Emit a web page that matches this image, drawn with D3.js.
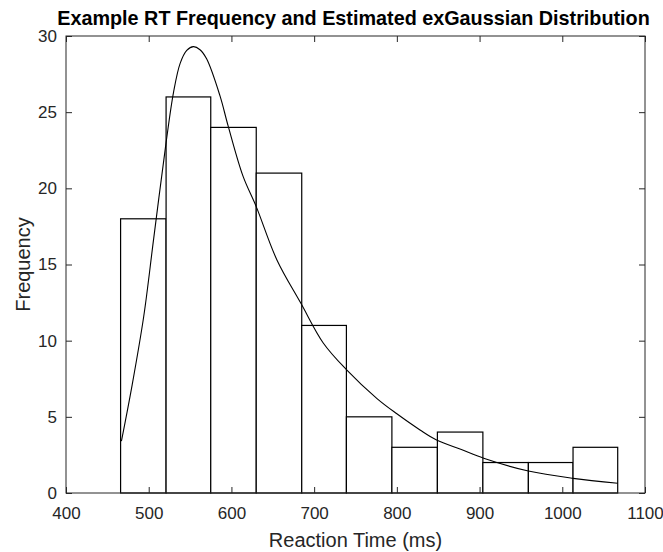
<!DOCTYPE html>
<meta charset="utf-8">
<title>RT histogram</title>
<script src="https://d3js.org/d3.v7.min.js"></script>
<style>
    body { margin: 0; background: #fff; }
    text { font-family: "Liberation Sans", Arial, sans-serif; fill: #262626; }
</style>
<body>
<div id="chart"></div>
<script>
    // histogram bins (ms) and counts
    var binEdges = [466, 521, 575, 630, 685, 739, 794, 849, 904, 959, 1013, 1067];
    var counts = [18, 26, 24, 21, 11, 5, 3, 4, 2, 2, 3];

    // fitted exGaussian curve
    var curveRT = [467, 480, 494, 506, 521, 530, 538, 546, 554, 562, 570, 586, 596, 614, 630, 655, 684, 711, 739, 776, 800, 828, 848, 878, 905, 959, 1013, 1067];
    var curveFreq = [3.4, 7.1, 11.6, 16.7, 23.0, 26.3, 28.2, 29.05, 29.3, 29.1, 28.5, 26.1, 24.1, 20.8, 18.8, 15.3, 12.45, 9.85, 8.1, 6.2, 5.2, 4.14, 3.48, 2.85, 2.28, 1.44, 0.96, 0.64];

    var xTicks = [400, 500, 600, 700, 800, 900, 1000, 1100];
    var yTicks = [0, 5, 10, 15, 20, 25, 30];

    var W = 663, H = 552;
    var margin = {top: 36, right: 18, bottom: 59, left: 66},
        width = W - margin.left - margin.right,
        height = H - margin.top - margin.bottom;

    var svg = d3.select("#chart")
        .append("svg")
        .attr("width", W)
        .attr("height", H)
        .append("g")
        .attr("transform", "translate(" + margin.left + "," + margin.top + ")");

    var x = d3.scaleLinear().domain([400, 1100]).range([0, width]);
    var y = d3.scaleLinear().domain([0, 30]).range([height, 0]);

    // bars
    var bins = counts.map(function(c, i) { return {x0: binEdges[i], x1: binEdges[i + 1], n: c}; });
    svg.selectAll(".bar")
        .data(bins)
        .enter()
        .append("rect")
        .attr("class", "bar")
        .attr("x", function(d) { return x(d.x0); })
        .attr("y", function(d) { return y(d.n); })
        .attr("width", function(d) { return x(d.x1) - x(d.x0); })
        .attr("height", function(d) { return y(0) - y(d.n); })
        .style("fill", "#fff")
        .style("stroke", "#000")
        .style("stroke-width", 1.2);

    // curve
    var pts = curveRT.map(function(v, i) { return [v, curveFreq[i]]; });
    svg.append("path")
        .datum(pts)
        .attr("d", d3.line()
            .x(function(d) { return x(d[0]); })
            .y(function(d) { return y(d[1]); })
            .curve(d3.curveCatmullRom))
        .style("fill", "none")
        .style("stroke", "#000")
        .style("stroke-width", 1.1);

    // axes (box with inward ticks, matlab style)
    var tick = 6;
    function style(g) {
        g.select(".domain").remove();
        g.selectAll("line").attr("stroke", "#262626");
        g.selectAll("text").style("font-size", "17px").attr("fill", "#333");
    }
    svg.append("g")
        .attr("transform", "translate(0," + height + ")")
        .call(d3.axisBottom(x).tickValues(xTicks).tickFormat(d3.format("d"))
            .tickSizeInner(-tick).tickSizeOuter(0).tickPadding(14))
        .call(style);
    svg.append("g")
        .call(d3.axisTop(x).tickValues(xTicks).tickSizeInner(-tick).tickSizeOuter(0).tickFormat(""))
        .call(style);
    svg.append("g")
        .call(d3.axisLeft(y).tickValues(yTicks).tickSizeInner(-tick).tickSizeOuter(0).tickPadding(9))
        .call(style);
    svg.append("g")
        .attr("transform", "translate(" + width + ",0)")
        .call(d3.axisRight(y).tickValues(yTicks).tickSizeInner(-tick).tickSizeOuter(0).tickFormat(""))
        .call(style);

    svg.append("rect")
        .attr("width", width)
        .attr("height", height)
        .style("fill", "none")
        .style("stroke", "#262626")
        .style("stroke-width", 1);

    // labels
    svg.append("text")
        .attr("x", width / 2)
        .attr("y", height + 54)
        .attr("text-anchor", "middle")
        .style("font-size", "20px")
        .text("Reaction Time (ms)");

    svg.append("text")
        .attr("transform", "translate(-36," + (height / 2) + ") rotate(-90)")
        .attr("text-anchor", "middle")
        .style("font-size", "20px")
        .text("Frequency");

    svg.append("text")
        .attr("x", width / 2 - 2)
        .attr("y", -11)
        .attr("text-anchor", "middle")
        .style("font-size", "19.8px")
        .style("font-weight", "bold")
        .style("fill", "#000")
        .text("Example RT Frequency and Estimated exGaussian Distribution");
</script>
</body>
